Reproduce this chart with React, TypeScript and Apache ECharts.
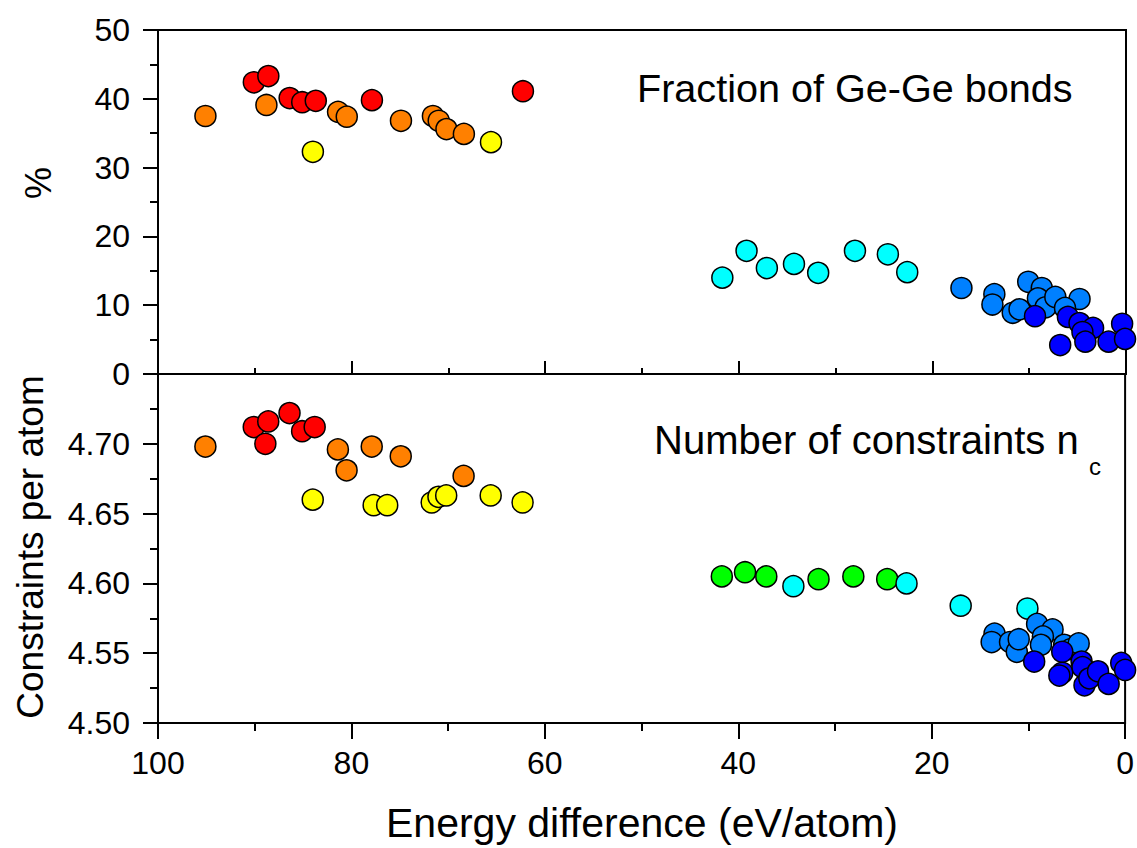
import React, { useEffect, useRef } from "react";
import * as echarts from "echarts";

// Energy difference (eV/atom) vs. fraction of Ge-Ge bonds (%)
const topOrange = [[95.1, 37.5], [88.8, 39.1], [81.4, 38.1], [80.5, 37.4], [74.9, 36.8], [71.6, 37.5], [71.0, 36.8], [70.2, 35.6], [68.4, 34.9]];
const topRed = [[90.1, 42.4], [88.6, 43.3], [86.4, 40.1], [85.1, 39.5], [83.7, 39.7], [77.9, 39.8], [62.3, 41.1]];
const topYellow = [[84.0, 32.3], [65.6, 33.7]];
const topCyan = [[41.7, 14.0], [39.2, 17.9], [37.1, 15.4], [34.3, 16.0], [31.8, 14.7], [28.0, 17.9], [24.6, 17.4], [22.6, 14.8]];
const topLightBlue = [[17.0, 12.5], [13.6, 11.6], [13.8, 10.1], [11.7, 8.9], [11.0, 9.4], [10.1, 13.4], [8.7, 12.5], [9.1, 11.0], [8.3, 9.7], [7.3, 11.2], [4.8, 10.9], [6.3, 9.6]];
const topBlue = [[9.4, 8.4], [6.0, 8.3], [4.8, 7.4], [3.4, 6.7], [4.5, 6.1], [4.2, 4.7], [6.8, 4.2], [1.8, 4.7], [0.4, 7.3], [0.1, 5.1]];

// Energy difference (eV/atom) vs. number of constraints per atom
const botOrange = [[95.1, 4.698], [81.4, 4.696], [80.5, 4.681], [77.9, 4.698], [74.9, 4.691], [68.4, 4.677]];
const botRed = [[90.1, 4.712], [88.6, 4.716], [88.9, 4.7], [86.4, 4.722], [85.1, 4.709], [83.8, 4.712]];
const botYellow = [[84.0, 4.66], [77.7, 4.656], [76.3, 4.656], [71.7, 4.658], [71.0, 4.662], [70.2, 4.663], [65.6, 4.663], [62.3, 4.658]];
const botGreen = [[41.7, 4.605], [39.3, 4.608], [37.1, 4.605], [31.7, 4.603], [28.1, 4.605], [24.6, 4.603]];
const botCyan = [[34.3, 4.598], [22.6, 4.6], [17.0, 4.584], [10.1, 4.582]];
const botLightBlue = [[13.5, 4.564], [13.8, 4.558], [11.9, 4.558], [11.2, 4.551], [11.0, 4.56], [9.1, 4.571], [7.5, 4.567], [8.5, 4.562], [8.7, 4.556], [6.3, 4.556], [5.6, 4.553], [4.8, 4.557]];
const botBlue = [[9.4, 4.544], [6.5, 4.551], [6.5, 4.536], [6.8, 4.534], [4.5, 4.544], [4.4, 4.54], [4.2, 4.527], [3.7, 4.532], [2.8, 4.537], [1.7, 4.528], [0.4, 4.543], [0.0, 4.538]];

const topLabel = "Fraction of Ge-Ge bonds";
const botLabel = "Number of constraints n";
const botLabelSub = "c";
const xTitle = "Energy difference (eV/atom)";
const yTopTitle = "%";
const yBotTitle = "Constraints per atom";

const COLORS = {
  red: "#ff0000",
  orange: "#ff8000",
  yellow: "#ffff00",
  cyan: "#00ffff",
  green: "#00ff00",
  lightBlue: "#0080ff",
  blue: "#0000ff",
};

const FONT = "'Liberation Sans', Arial, sans-serif";

function scatter(data: number[][], color: string, idx: number) {
  return {
    type: "scatter",
    xAxisIndex: idx,
    yAxisIndex: idx,
    data,
    symbol: "circle",
    symbolSize: 21,
    itemStyle: { color, borderColor: "#000", borderWidth: 1.5, opacity: 1 },
    emphasis: { disabled: true },
  };
}

export default function App() {
  const ref = useRef<HTMLDivElement>(null);

  useEffect(() => {
    document.body.style.margin = "0";
    const chart = echarts.init(ref.current!, null, { renderer: "svg" });
    const axisLine = { show: true, onZero: false, lineStyle: { color: "#000", width: 2 } };
    const tickLine = { color: "#000", width: 2 };
    const xCommon = {
      type: "value",
      min: 0,
      max: 100,
      interval: 20,
      inverse: true,
      splitLine: { show: false },
      minorSplitLine: { show: false },
      axisLine,
    };
    const yLabel = { color: "#000", fontFamily: FONT, fontSize: 32, margin: 28 };
    chart.setOption({
      animation: false,
      grid: [
        { left: 158, right: 11, top: 30, height: 344, show: true, borderColor: "#000", borderWidth: 2, backgroundColor: "transparent" },
        { left: 158, right: 11, top: 374, height: 349, show: true, borderColor: "#000", borderWidth: 2, backgroundColor: "transparent" },
      ],
      xAxis: [
        {
          ...xCommon,
          gridIndex: 0,
          position: "bottom",
          axisLabel: { show: false },
          axisTick: { show: true, inside: true, length: 13, lineStyle: tickLine },
          minorTick: { show: true, splitNumber: 2, length: 6, lineStyle: tickLine },
        },
        {
          ...xCommon,
          gridIndex: 1,
          position: "bottom",
          axisLabel: { show: true, color: "#000", fontFamily: FONT, fontSize: 32, margin: 24 },
          axisTick: { show: true, inside: false, length: 16, lineStyle: tickLine },
          minorTick: { show: true, splitNumber: 2, length: 8, lineStyle: tickLine },
        },
      ],
      yAxis: [
        {
          type: "value",
          gridIndex: 0,
          position: "left",
          min: 0,
          max: 50,
          interval: 10,
          splitLine: { show: false },
          minorSplitLine: { show: false },
          axisLine,
          axisLabel: yLabel,
          axisTick: { show: true, inside: false, length: 15, lineStyle: tickLine },
          minorTick: { show: true, splitNumber: 2, length: 8, lineStyle: tickLine },
        },
        {
          type: "value",
          gridIndex: 1,
          position: "left",
          min: 4.5,
          max: 4.75,
          interval: 0.05,
          splitLine: { show: false },
          minorSplitLine: { show: false },
          axisLine,
          axisLabel: {
            ...yLabel,
            formatter: (v: number) => (v > 4.74 ? "" : v.toFixed(2)),
          },
          axisTick: { show: true, inside: false, length: 15, lineStyle: tickLine },
          minorTick: { show: true, splitNumber: 2, length: 8, lineStyle: tickLine },
        },
      ],
      series: [
        scatter(topOrange, COLORS.orange, 0),
        scatter(topRed, COLORS.red, 0),
        scatter(topYellow, COLORS.yellow, 0),
        scatter(topCyan, COLORS.cyan, 0),
        scatter(topLightBlue, COLORS.lightBlue, 0),
        scatter(topBlue, COLORS.blue, 0),
        scatter(botOrange, COLORS.orange, 1),
        scatter(botRed, COLORS.red, 1),
        scatter(botYellow, COLORS.yellow, 1),
        scatter(botGreen, COLORS.green, 1),
        scatter(botCyan, COLORS.cyan, 1),
        scatter(botLightBlue, COLORS.lightBlue, 1),
        scatter(botBlue, COLORS.blue, 1),
      ],
      graphic: [
        {
          type: "text",
          x: 637,
          y: 88,
          style: { text: topLabel, fill: "#000", font: `39.6px ${FONT}`, align: "left", verticalAlign: "middle" },
        },
        {
          type: "text",
          x: 654,
          y: 440,
          style: { text: botLabel, fill: "#000", font: `40px ${FONT}`, align: "left", verticalAlign: "middle" },
        },
        {
          type: "text",
          x: 1089,
          y: 466,
          style: { text: botLabelSub, fill: "#000", font: `24px ${FONT}`, align: "left", verticalAlign: "middle" },
        },
        {
          type: "text",
          x: 642,
          y: 823,
          style: { text: xTitle, fill: "#000", font: `41px ${FONT}`, align: "center", verticalAlign: "middle" },
        },
        {
          type: "text",
          x: 38,
          y: 183,
          rotation: Math.PI / 2,
          style: { text: yTopTitle, fill: "#000", font: `36px ${FONT}`, align: "center", verticalAlign: "middle" },
        },
        {
          type: "text",
          x: 30,
          y: 547,
          rotation: Math.PI / 2,
          style: { text: yBotTitle, fill: "#000", font: `37px ${FONT}`, align: "center", verticalAlign: "middle" },
        },
      ],
    });
    return () => chart.dispose();
  }, []);

  return <div ref={ref} style={{ width: 1137, height: 848 }} />;
}
